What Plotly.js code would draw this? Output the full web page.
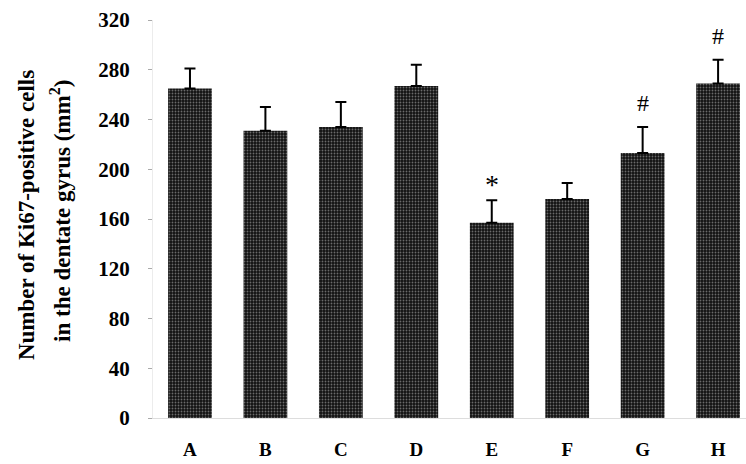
<!DOCTYPE html>
<html>
<head>
<meta charset="utf-8">
<script src="https://cdn.plot.ly/plotly-3.0.1.min.js"></script>
<style>html,body{margin:0;padding:0;background:#fff;}#chart{width:746px;height:464px;}</style>
</head>
<body>
<div id="chart"></div>
<script>
var groups = ['A','B','C','D','E','F','G','H'];
var meanValues = [265, 231, 234, 267, 157, 176, 213, 269];
var errorValues = [16, 19, 20, 17, 18, 13, 21, 19];
var markText = ['', '', '', '', '*', '', '#', '#'];
var yTicks = [0, 40, 80, 120, 160, 200, 240, 280, 320];

var serif = '"Liberation Serif", "Times New Roman", serif';

var trace = {
  type: 'bar',
  x: groups,
  y: meanValues,
  width: 0.58,
  marker: {
    color: '#111',
    line: {width: 0},
    pattern: {shape: '.', fgcolor: '#6a6a6a', bgcolor: '#111', size: 3, solidity: 0.3}
  },
  error_y: {
    type: 'data', symmetric: false, array: errorValues,
    arrayminus: errorValues.map(function(){return 0;}),
    color: '#000', thickness: 2, width: 5.5
  },
  hoverinfo: 'none'
};

var annotations = [];
groups.forEach(function(g, i){
  if (markText[i]) {
    var star = markText[i] === '*';
    annotations.push({
      x: g, y: meanValues[i] + errorValues[i], xref: 'x', yref: 'y',
      text: markText[i], showarrow: false, yanchor: 'middle', yshift: star ? 16 : 24,
      font: {family: serif, size: star ? 28 : 24, color: '#000'}
    });
  }
});
annotations.push({
  xref: 'paper', yref: 'paper', x: -0.214, y: 0.51, textangle: -90,
  text: '<b>Number of Ki67-positive cells</b>', showarrow: false,
  xanchor: 'center', yanchor: 'middle', font: {family: serif, size: 23, color: '#000'}
});
annotations.push({
  xref: 'paper', yref: 'paper', x: -0.157, y: 0.52, textangle: -90,
  text: '<b>in the dentate gyrus (mm<sup>2</sup>)</b>', showarrow: false,
  xanchor: 'center', yanchor: 'middle', font: {family: serif, size: 23, color: '#000'}
});

var layout = {
  width: 746, height: 464,
  margin: {l: 153, r: 0, t: 20, b: 46},
  paper_bgcolor: '#fff', plot_bgcolor: '#fff',
  showlegend: false,
  font: {family: serif, color: '#000'},
  xaxis: {
    type: 'category', range: [-0.49, 7.37],
    showgrid: false, zeroline: false,
    showline: true, linecolor: '#dddddd', linewidth: 1,
    ticks: 'outside', ticklen: 14, tickcolor: 'rgba(0,0,0,0)',
    tickfont: {family: serif, size: 19, color: '#000', weight: 'bold'}
  },
  yaxis: {
    range: [0, 320], tickvals: yTicks,
    showgrid: false, zeroline: false,
    showline: true, linecolor: '#ececec', linewidth: 1,
    ticks: 'outside', ticklen: 4, tickcolor: '#aaa', tickwidth: 1,
    ticklabelstandoff: 14,
    tickfont: {family: serif, size: 21, color: '#000', weight: 'bold'}
  },
  annotations: annotations
};

Plotly.newPlot('chart', [trace], layout, {staticPlot: true, displayModeBar: false});
</script>
</body>
</html>
